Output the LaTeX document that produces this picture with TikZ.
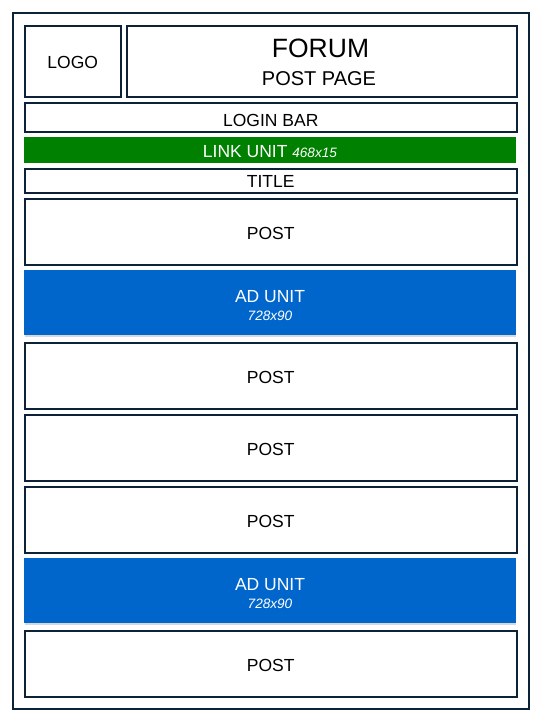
\documentclass[tikz,border=0pt]{standalone}
\usepackage{fontspec}
\setmainfont{Liberation Sans}
\usetikzlibrary{shadows}
\definecolor{frame}{HTML}{0C2238}
\definecolor{linkgreen}{HTML}{008000}
\definecolor{adblue}{HTML}{0066CC}
\begin{document}
\begin{tikzpicture}[x=1pt,y=-1pt,
  box/.style={draw=frame,line width=2pt,fill=white,inner sep=0pt,anchor=north west,
     font=\fontsize{17.5}{20}\selectfont,text height=15pt,text depth=0pt},
  adbox/.style={fill=adblue,inner sep=0pt,anchor=north west,
     drop shadow={shadow xshift=0.5pt,shadow yshift=-1.5pt,opacity=0.3}},
  greenbar/.style={fill=linkgreen,inner sep=0pt,anchor=north west,text=white,
     font=\fontsize{17.5}{20}\selectfont,text height=15.5pt,text depth=0pt},
  adtext/.style={anchor=base,inner sep=0pt,text=white,font=\fontsize{17.5}{20}\selectfont},
  adsize/.style={anchor=base,inner sep=0pt,text=white,font=\fontsize{13.6}{16}\selectfont\itshape},
  headtext/.style={anchor=base,inner sep=0pt}]
\useasboundingbox (0,0) rectangle (540,720);
\fill[white] (0,0) rectangle (540,720);
\node[draw=frame,line width=2pt,minimum width=516pt,minimum height=696pt,anchor=north west,inner sep=0pt] (outer) at (12,12) {};
\node[box,minimum width=95.5pt,minimum height=71pt,text height=13.5pt] (logo) at (24,25) {LOGO};
\node[box,minimum width=390pt,minimum height=71pt] (forum) at (126,25) {};
\node[headtext,font=\fontsize{26.5}{28}\selectfont] (forumtitle) at (320.5,57.3) {FORUM};
\node[headtext,font=\fontsize{20}{22}\selectfont] (forumsub) at (319,85) {POST PAGE};
\node[box,minimum width=491.5pt,minimum height=29pt,text height=17pt] (login) at (24,102) {LOGIN BAR};
\node[greenbar,minimum width=491.5pt,minimum height=25.5pt] (link) at (24,136.8) {LINK UNIT {\fontsize{13.6}{16}\selectfont\itshape 468x15}};
\node[box,minimum width=491.5pt,minimum height=24pt,text height=13.2pt] (title) at (24,168) {TITLE};
\node[box,minimum width=491.5pt,minimum height=66pt] (post1) at (24,198) {POST};
\node[adbox,minimum width=491.5pt,minimum height=65pt] (ad1) at (24,270) {};
\node[adtext] (ad1t) at (270,302.3) {AD UNIT};
\node[adsize] (ad1s) at (270,320.3) {728x90};
\node[box,minimum width=491.5pt,minimum height=66pt] (post2) at (24,342) {POST};
\node[box,minimum width=491.5pt,minimum height=66pt] (post3) at (24,414) {POST};
\node[box,minimum width=491.5pt,minimum height=66pt] (post4) at (24,486) {POST};
\node[adbox,minimum width=491.5pt,minimum height=65pt] (ad2) at (24,558) {};
\node[adtext] (ad2t) at (270,590.3) {AD UNIT};
\node[adsize] (ad2s) at (270,608.3) {728x90};
\node[box,minimum width=491.5pt,minimum height=66pt] (post5) at (24,630) {POST};
\end{tikzpicture}
\end{document}
